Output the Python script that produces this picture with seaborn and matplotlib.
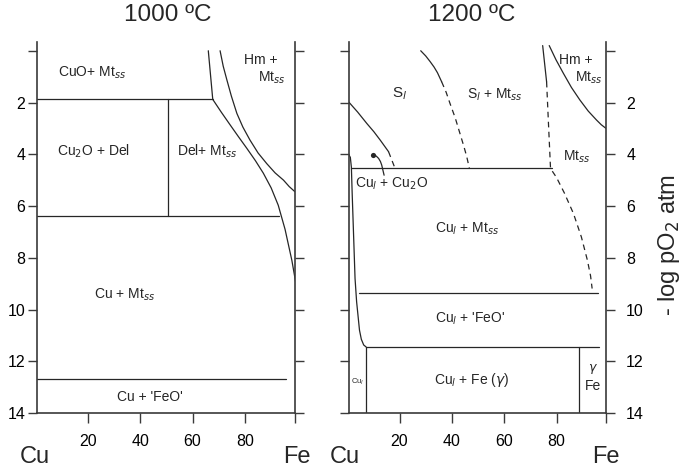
import numpy as np
import pandas as pd
import matplotlib
matplotlib.use("Agg")
import matplotlib.pyplot as plt
import seaborn as sns

# ── data (wt% Fe vs -log pO2) ──
# 1000 C panel
t1000_cuo_x, t1000_cuo_y = [0.6, 67.7], [1.88, 1.88]
t1000_del_x, t1000_del_y = [50.5, 50.5], [1.88, 6.39]
t1000_cu2o_x, t1000_cu2o_y = [0.6, 93.1], [6.39, 6.39]
t1000_feo_x, t1000_feo_y = [0.6, 95.7], [12.67, 12.67]
t1000_mt_x = [66.0, 67.7, 71.0, 74.3, 77.5, 80.7, 84.0, 87.0, 90.0, 92.7, 95.3, 97.9, 99.8]
t1000_mt_y = [0.0, 1.88, 2.38, 2.86, 3.32, 3.77, 4.25, 4.73, 5.3, 5.97, 6.9, 8.1, 9.2]
t1000_hm_x = [70.5, 71.7, 73.1, 74.8, 76.9, 79.2, 81.9, 85.0, 88.3, 91.5, 94.7, 96.9, 99.1]
t1000_hm_y = [0.0, 0.6, 1.13, 1.75, 2.42, 2.95, 3.45, 3.95, 4.36, 4.72, 5.0, 5.25, 5.45]

# 1200 C panel
t1200_cul_x = [0.5, 1.2, 1.6, 1.9, 2.4, 3.0, 3.6, 4.2, 4.7, 5.4, 6.3, 7.25]
t1200_cul_y = [4.0, 4.12, 4.5, 5.5, 7.0, 8.8, 9.7, 10.3, 10.8, 11.15, 11.37, 11.45]
t1200_h455_x, t1200_h455_y = [1.6, 78.1], [4.55, 4.55]
t1200_h937_x, t1200_h937_y = [4.7, 95.7], [9.37, 9.37]
t1200_h1145_x, t1200_h1145_y = [7.25, 96.3], [11.45, 11.45]
t1200_v1_x, t1200_v1_y = [7.25, 7.25], [11.45, 14.0]
t1200_v2_x, t1200_v2_y = [88.5, 88.5], [11.45, 14.0]
t1200_sl_x = [0.5, 4.0, 7.5, 10.2, 12.6, 15.8]
t1200_sl_y = [1.97, 2.37, 2.81, 3.13, 3.45, 3.9]
t1200_sl_dash_x = [15.8, 18.3]
t1200_sl_dash_y = [3.9, 4.55]
t1200_dot_x, t1200_dot_y = [10.0], [4.03]
t1200_cu2o_x = [10.0, 11.1, 12.0, 12.7, 13.2, 14.1]
t1200_cu2o_y = [4.03, 4.07, 4.16, 4.28, 4.42, 4.81]
t1200_mid_x = [28.1, 30.0, 31.7, 33.2, 34.5, 36.1]
t1200_mid_y = [0.0, 0.2, 0.42, 0.63, 0.85, 1.2]
t1200_mid_dash_x = [36.1, 37.8, 39.3, 41.3, 43.1, 44.6, 45.7, 46.7]
t1200_mid_dash_y = [1.2, 1.6, 2.04, 2.6, 3.2, 3.7, 4.1, 4.55]
t1200_mt_x = [74.7, 76.2]
t1200_mt_y = [-0.2, 1.2]
t1200_mt_dash_x = [76.2, 77.0, 77.7, 80.0, 83.0, 86.5, 89.5, 91.8, 93.0, 93.6]
t1200_mt_dash_y = [1.2, 3.0, 4.55, 4.9, 5.5, 6.3, 7.2, 8.1, 8.7, 9.19]
t1200_hm_x = [77.2, 79.8, 82.6, 85.7, 88.9, 92.1, 95.3, 97.1, 98.9]
t1200_hm_y = [-0.2, 0.35, 0.87, 1.42, 1.9, 2.33, 2.68, 2.86, 3.0]

y_ticks = [0, 2, 4, 6, 8, 10, 12, 14]
y_tick_labels = ["", "2", "4", "6", "8", "10", "12", "14"]
x_ticks = [20, 40, 60, 80]

LINE = "#262626"
SPINE = "#3a3a3a"

sns.set_theme(style="ticks")
plt.rcParams["font.family"] = ["Liberation Sans", "DejaVu Sans"]
plt.rcParams["mathtext.fontset"] = "dejavusans"

fig = plt.figure(figsize=(6.85, 4.71), dpi=100)
bottom = 1 - 413 / 471
height = (413 - 41.7) / 471
ax1 = fig.add_axes([37 / 685, bottom, 258 / 685, height])
ax2 = fig.add_axes([348.5 / 685, bottom, 257.5 / 685, height])


def seg(ax, xs, ys, dashed=False):
    d = pd.DataFrame({"x": xs, "y": ys})
    kw = dict(linestyle=(0, (4.5, 3.5))) if dashed else {}
    sns.lineplot(data=d, x="x", y="y", ax=ax, sort=False, estimator=None,
                 color=LINE, lw=0.9, **kw)


def style_axes(ax, xmin, xmax, label_side):
    ax.set_xlim(xmin, xmax)
    ax.set_ylim(14, -0.35)
    ax.set_xlabel("")
    ax.set_ylabel("")
    ax.spines["top"].set_visible(False)
    for s in ["left", "right", "bottom"]:
        ax.spines[s].set_color(SPINE)
        ax.spines[s].set_linewidth(1.2)
    ax.set_xticks(x_ticks + [xmax])
    ax.set_xticklabels([str(v) for v in x_ticks] + [""])
    ax.tick_params(axis="x", direction="out", length=7, width=1.0,
                   color=SPINE, pad=8, labelsize=11.5, labelcolor="black")
    ax.set_yticks(y_ticks)
    ax.set_yticklabels(y_tick_labels)
    if label_side == "left":
        ax.tick_params(axis="y", which="both", left=True, right=True,
                       labelleft=True, labelright=False, direction="out",
                       length=6.5, width=1.0, color=SPINE, pad=2,
                       labelsize=11.5, labelcolor="black")
    else:
        ax.tick_params(axis="y", which="both", left=True, right=True,
                       labelleft=False, labelright=True, direction="out",
                       length=6.5, width=1.0, color=SPINE, pad=8,
                       labelsize=11.5, labelcolor="black")


# ── 1000 C ──
seg(ax1, t1000_cuo_x, t1000_cuo_y)
seg(ax1, t1000_del_x, t1000_del_y)
seg(ax1, t1000_cu2o_x, t1000_cu2o_y)
seg(ax1, t1000_feo_x, t1000_feo_y)
seg(ax1, t1000_mt_x, t1000_mt_y)
seg(ax1, t1000_hm_x, t1000_hm_y)
style_axes(ax1, 0.6, 99.1, "left")

fs = 10
ax1.text(8.7, 0.85, r"CuO+ Mt$_{ss}$", fontsize=fs, va="center")
ax1.text(79.5, 0.35, "Hm +", fontsize=fs, va="center")
ax1.text(95.5, 1.05, r"Mt$_{ss}$", fontsize=fs, va="center", ha="right")
ax1.text(22.1, 3.9, r"Cu$_2$O + Del", fontsize=fs, va="center", ha="center")
ax1.text(65.4, 3.9, r"Del+ Mt$_{ss}$", fontsize=fs, va="center", ha="center")
ax1.text(34.2, 9.45, r"Cu + Mt$_{ss}$", fontsize=fs, va="center", ha="center")
ax1.text(43.8, 13.4, "Cu + 'FeO'", fontsize=fs, va="center", ha="center")

# ── 1200 C ──
seg(ax2, t1200_cul_x, t1200_cul_y)
seg(ax2, t1200_h455_x, t1200_h455_y)
seg(ax2, t1200_h937_x, t1200_h937_y)
seg(ax2, t1200_h1145_x, t1200_h1145_y)
seg(ax2, t1200_v1_x, t1200_v1_y)
seg(ax2, t1200_v2_x, t1200_v2_y)
seg(ax2, t1200_sl_x, t1200_sl_y)
seg(ax2, t1200_sl_dash_x, t1200_sl_dash_y, dashed=True)
seg(ax2, t1200_cu2o_x, t1200_cu2o_y)
seg(ax2, t1200_mid_x, t1200_mid_y)
seg(ax2, t1200_mid_dash_x, t1200_mid_dash_y, dashed=True)
seg(ax2, t1200_mt_x, t1200_mt_y)
seg(ax2, t1200_mt_dash_x, t1200_mt_dash_y, dashed=True)
seg(ax2, t1200_hm_x, t1200_hm_y)
sns.scatterplot(x=t1200_dot_x, y=t1200_dot_y, ax=ax2, color=LINE, s=14,
                edgecolor=LINE, linewidth=0)
style_axes(ax2, 0.5, 98.9, "right")

ax2.text(20.2, 1.65, r"S$_l$", fontsize=fs + 1, va="center", ha="center")
ax2.text(56.5, 1.71, r"S$_l$ + Mt$_{ss}$", fontsize=fs, va="center", ha="center")
ax2.text(80.8, 0.35, "Hm +", fontsize=fs, va="center")
ax2.text(97.5, 1.05, r"Mt$_{ss}$", fontsize=fs, va="center", ha="right")
ax2.text(87.6, 4.1, r"Mt$_{ss}$", fontsize=fs, va="center", ha="center")
ax2.text(17.1, 5.15, r"Cu$_l$ + Cu$_2$O", fontsize=fs, va="center", ha="center")
ax2.text(45.7, 6.87, r"Cu$_l$ + Mt$_{ss}$", fontsize=fs, va="center", ha="center")
ax2.text(46.9, 10.35, r"Cu$_l$ + 'FeO'", fontsize=fs, va="center", ha="center")
ax2.text(47.6, 12.74, r"Cu$_l$ + Fe ($\gamma$)", fontsize=fs, va="center", ha="center")
ax2.text(94.0, 12.3, r"$\gamma$", fontsize=fs - 1, va="center", ha="center")
ax2.text(94.0, 12.95, "Fe", fontsize=fs, va="center", ha="center")
ax2.text(3.9, 12.8, r"Cu$_l$", fontsize=5.5, va="center", ha="center")

# ── titles, end-member labels, y label ──
fig.text(168 / 685, 1 - 15 / 471, "1000 ºC", fontsize=17.5, ha="center", va="center")
fig.text(472 / 685, 1 - 15 / 471, "1200 ºC", fontsize=17.5, ha="center", va="center")
for xp, lab in [(35, "Cu"), (297, "Fe"), (345, "Cu"), (606, "Fe")]:
    fig.text(xp / 685, 1 - 457 / 471, lab, fontsize=17, ha="center", va="center")
fig.text(669 / 685, 1 - 245 / 471, r"- log pO$_2$ atm", fontsize=17,
         rotation=90, ha="center", va="center")

fig.savefig("out.png", dpi=100)
